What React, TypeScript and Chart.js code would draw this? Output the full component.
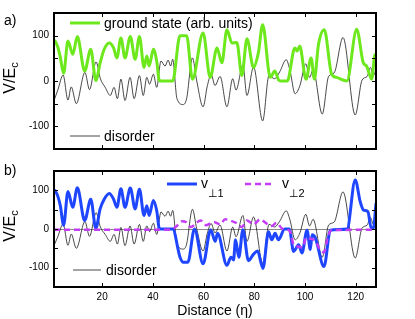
import React, { useEffect, useRef } from 'react';
import { Chart, registerables } from 'chart.js';

Chart.register(...registerables);

// ---------- data ----------
const xTickValues = [20, 40, 60, 80, 100, 120];
const yTickMarks = [-150, -100, -50, 0, 50, 100, 150];
const yTickLabels = [-100, 0, 100];

const groundX = [1.2, 2.5, 3.5, 4.8, 6.5, 8.4, 10.2, 13.1, 15.5, 17.5, 19.2, 20.8, 22.8, 24.5, 25.8, 27.4, 29, 31.1, 33, 34.7, 36.5, 37.6, 38.5, 40.2, 41.5, 42.6, 47.8, 50.7, 53.3, 55.6, 59.8, 62.6, 65.3, 67.2, 69.2, 71.2, 73.1, 75.1, 77.1, 79.7, 81.6, 83.3, 86.3, 88.1, 89.6, 90.5, 93, 96, 96.9, 97.9, 100.4, 102.4, 103.7, 105.3, 107.6, 110.5, 112.5, 116.5, 120.4, 123, 124.3, 126.3, 127.6, 128];
const groundY = [91, 75, 52, 17, 88, 59, 98, 22, 70, 1, 40, 70, 84, 73, 51, 95, 51, 98, 48, 98, 30, 55, 33, 70, 44, 0, 0, 100, 100, 4, 106, 8, 73, 40, 113, 84, 85, 12, 93, 30, 62, 124, 8, 22, 2, 0, 0, 73, 66, 77, 4, 51, 4, 80, 113, 15, 8, 0, 114, 40, 33, 4, 58, 45];

const disorderX = [1.2, 2.5, 4.6, 6.5, 7.8, 9.8, 13.2, 15, 17.6, 19.3, 21.2, 23.2, 24.7, 26, 27.4, 29, 31, 32.6, 34.7, 36.2, 37.6, 38.7, 40.2, 41.5, 43.2, 44.8, 46, 47, 47.8, 49.5, 52, 53.3, 55.6, 57.3, 59.8, 61.5, 63, 64.5, 66.5, 69.2, 71.5, 72.8, 75.5, 77.1, 79.7, 83.3, 85.8, 88, 90, 92.6, 94, 96.1, 98, 100.3, 101.8, 103.2, 106.8, 109.3, 111.5, 115, 119.8, 122.5, 124.5, 125.8, 127, 128];
const disorderY = [-40, -20, 13, -42, -13, -50, 19, -19, 42, 5, -14, -32, -14, -39, 4, -43, 8, -39, 12, -32, 8, -7, 15, -14, 44, 33, 46, 33, 48, -39, -52, -39, 51, 0, -57, -10, 14, -10, 10, -57, 5, -20, 35, -32, 31, -88, 12, 5, 20, 47, 25, -28, -10, 38, 8, 25, -73, 10, 18, 96, -75, 2, 10, 30, 12, 25];

const v1X = [1.2, 2.5, 3.5, 4.8, 6.5, 8.4, 10.2, 13.1, 15.5, 17.5, 19.2, 20.8, 22.8, 24.5, 25.8, 27.4, 29, 31.1, 33, 34.7, 36.5, 37.6, 38.5, 40.2, 41.5, 42.6, 47.8, 50.7, 52, 53.8, 56.4, 59.8, 62.8, 64.6, 65.5, 69.2, 70.8, 71.8, 72.6, 73.9, 75.5, 77.7, 79.7, 81.3, 83.4, 85.6, 86.9, 88.2, 89.5, 92, 93.8, 95.5, 97.5, 98.8, 100.8, 102.1, 102.8, 104, 107.5, 110, 116.6, 119.8, 121.8, 123.1, 124.8, 126.1, 127, 128];
const v1Y = [102, 85, 60, 10, 97, 56, 107, 22, 77, 2, 52, 77, 92, 77, 56, 104, 56, 106, 52, 103, 35, 60, 35, 74, 48, 0, 0, -73, -86, -86, 0, -90, -2, -32, -11, -94, -73, -80, -28, -73, -2, -82, -65, -57, -102, -7, -28, -11, -28, 0, 0, -58, -41, -62, -3, -53, -15, -22, -97, -3, 0, 127, 70, 49, 45, 3, 3, 67];

const v2X = [1, 47, 49, 51.5, 53, 55, 57, 58.8, 61, 64, 66.5, 68.5, 70.5, 73, 75.1, 77.1, 79.7, 82.3, 84.9, 86.9, 88.8, 90.8, 93, 94, 95.5, 97, 99, 100.5, 102, 104, 106, 107.5, 109, 110.5, 128];
const v2Y = [-2, -2, 5, 20, 18, 5, 15, 22, 10, 18, 12, 25, 22, 15, 5, 22, 12, 25, 14, 8, 16, 2, -2, -5, -40, -45, -48, -22, -25, -30, -55, -60, -20, -3, -2];

// ---------- styles ----------
const FONT = '"Liberation Sans", Arial, Helvetica, "DejaVu Sans", sans-serif';
const GREEN = '#6ce81c';
const BLUE = '#1e46ff';
const MAGENTA = '#c43cf5';
const BLACK = '#1a1a1a';

const pts = (xs: number[], ys: number[]) => xs.map((x, i) => ({ x, y: ys[i] }));

type TextFn = (ctx: CanvasRenderingContext2D, chart: any) => void;

function framePlugin(id: string, drawTexts: TextFn) {
  return {
    id,
    afterDraw(chart: any) {
      const { ctx, chartArea: ca, scales } = chart;
      const xs = scales.x;
      const ys = scales.y;
      ctx.save();
      ctx.strokeStyle = '#000';
      ctx.lineWidth = 1;
      const tl = 4;
      ctx.beginPath();
      for (const v of xTickValues) {
        const px = Math.round(xs.getPixelForValue(v)) + 0.5;
        ctx.moveTo(px, ca.bottom);
        ctx.lineTo(px, ca.bottom - tl);
        ctx.moveTo(px, ca.top);
        ctx.lineTo(px, ca.top + tl);
      }
      for (const v of yTickMarks) {
        const py = Math.round(ys.getPixelForValue(v)) + 0.5;
        ctx.moveTo(ca.left, py);
        ctx.lineTo(ca.left + tl, py);
        ctx.moveTo(ca.right, py);
        ctx.lineTo(ca.right - tl, py);
      }
      ctx.stroke();
      ctx.lineWidth = 2;
      ctx.strokeRect(ca.left, ca.top, ca.right - ca.left, ca.bottom - ca.top);
      ctx.fillStyle = '#000';
      drawTexts(ctx, chart);
      ctx.restore();
    },
  };
}

function legendLine(ctx: CanvasRenderingContext2D, x1: number, x2: number, y: number, color: string, width: number, dash: number[] = []) {
  ctx.save();
  ctx.strokeStyle = color;
  ctx.lineWidth = width;
  ctx.setLineDash(dash);
  ctx.beginPath();
  ctx.moveTo(x1, y);
  ctx.lineTo(x2, y);
  ctx.stroke();
  ctx.restore();
}

function text(ctx: CanvasRenderingContext2D, s: string, x: number, y: number, size: number, align: CanvasTextAlign = 'left') {
  ctx.font = `${size}px ${FONT}`;
  ctx.textAlign = align;
  ctx.textBaseline = 'alphabetic';
  ctx.fillStyle = '#000';
  ctx.fillText(s, x, y);
}

function yLabel(ctx: CanvasRenderingContext2D, cy: number) {
  ctx.save();
  ctx.translate(15, cy - 3);
  ctx.rotate(-Math.PI / 2);
  ctx.font = `16px ${FONT}`;
  const w1 = ctx.measureText('V/E').width;
  ctx.font = `11px ${FONT}`;
  const w2 = ctx.measureText('c').width;
  const start = -(w1 + w2) / 2;
  text(ctx, 'V/E', start, 0, 16);
  text(ctx, 'c', start + w1, 3, 11);
  ctx.restore();
}

function baseOptions(padTop: number, xHeight: number, showX: boolean, zeroLine: boolean, texts: TextFn) {
  return {
    responsive: false,
    animation: false,
    layout: { padding: { left: 0, right: 39, top: padTop, bottom: 0 } },
    plugins: { legend: { display: false }, tooltip: { enabled: false } },
    elements: { point: { radius: 0 } },
    scales: {
      x: {
        type: 'linear',
        min: 1,
        max: 128,
        afterBuildTicks: (s: any) => {
          s.ticks = xTickValues.map((v) => ({ value: v }));
        },
        afterFit: (s: any) => {
          s.height = xHeight;
        },
        grid: { display: false, drawTicks: false },
        border: { display: false },
        ticks: {
          display: showX,
          padding: 4,
          maxRotation: 0,
          autoSkip: false,
          color: '#000',
          font: { family: FONT, size: 10 },
        },
      },
      y: {
        type: 'linear',
        min: -150,
        max: 150,
        afterBuildTicks: (s: any) => {
          s.ticks = yTickMarks.map((v) => ({ value: v }));
        },
        afterFit: (s: any) => {
          s.width = 54;
        },
        grid: {
          display: zeroLine,
          drawTicks: false,
          lineWidth: 1,
          color: (c: any) => (c.tick && c.tick.value === 0 ? '#8a8a8a' : 'rgba(0,0,0,0)'),
        },
        border: { display: false },
        ticks: {
          padding: 5,
          color: '#000',
          font: { family: FONT, size: 10 },
          callback: (v: any) => (yTickLabels.includes(Number(v)) ? String(v) : ''),
        },
      },
    },
    _texts: texts,
  } as any;
}

const textsA: TextFn = (ctx, chart) => {
  const ca = chart.chartArea;
  text(ctx, 'a)', 4, 25, 14);
  legendLine(ctx, 70, 100, 23, GREEN, 3);
  text(ctx, 'ground state (arb. units)', 104, 28, 14);
  legendLine(ctx, 70, 100, 136, BLACK, 0.8);
  text(ctx, 'disorder', 104, 141, 14);
  yLabel(ctx, (ca.top + ca.bottom) / 2);
};

const textsB: TextFn = (ctx, chart) => {
  const ca = chart.chartArea;
  text(ctx, 'b)', 4, 15, 14);
  legendLine(ctx, 167, 197, 24, BLUE, 3);
  text(ctx, 'v', 201, 28, 14);
  text(ctx, '⊥1', 208, 37, 11);
  legendLine(ctx, 245, 273, 24, MAGENTA, 2.5, [6, 4]);
  text(ctx, 'v', 282, 28, 14);
  text(ctx, '⊥2', 289, 37, 11);
  legendLine(ctx, 73, 101, 110, BLACK, 0.8);
  text(ctx, 'disorder', 106, 115, 14);
  yLabel(ctx, (ca.top + ca.bottom) / 2);
  text(ctx, 'Distance (η)', (ca.left + ca.right) / 2, 155, 14, 'center');
};

export default function App() {
  const refA = useRef<HTMLCanvasElement | null>(null);
  const refB = useRef<HTMLCanvasElement | null>(null);

  useEffect(() => {
    const lineDs = (label: string, xs: number[], ys: number[], color: string, width: number, dash: number[] = []) => ({
      label,
      data: pts(xs, ys),
      borderColor: color,
      backgroundColor: color,
      borderWidth: width,
      borderDash: dash,
      pointRadius: 0,
      fill: false,
      cubicInterpolationMode: 'monotone',
      borderCapStyle: 'butt',
      borderJoinStyle: 'round',
    });

    const chartA = new Chart(refA.current as HTMLCanvasElement, {
      type: 'line',
      data: {
        datasets: [
          lineDs('ground state (arb. units)', groundX, groundY, GREEN, 3),
          lineDs('disorder', disorderX, disorderY, BLACK, 0.8),
        ],
      },
      options: baseOptions(13, 10, false, false, textsA),
      plugins: [framePlugin('frameA', textsA)],
    } as any);

    const chartB = new Chart(refB.current as HTMLCanvasElement, {
      type: 'line',
      data: {
        datasets: [
          lineDs('v⊥2', v2X, v2Y, MAGENTA, 2.5, [6, 4]),
          lineDs('v⊥1', v1X, v1Y, BLUE, 3),
          lineDs('disorder', disorderX, disorderY, BLACK, 0.8),
        ],
      },
      options: baseOptions(6, 32, true, true, textsB),
      plugins: [framePlugin('frameB', textsB)],
    } as any);

    return () => {
      chartA.destroy();
      chartB.destroy();
    };
  }, []);

  return (
    <div style={{ position: 'absolute', left: 0, top: 0, width: 415, height: 319, background: '#fff' }}>
      <canvas ref={refA} width={415} height={160} style={{ position: 'absolute', left: 0, top: 0 }} />
      <canvas ref={refB} width={415} height={159} style={{ position: 'absolute', left: 0, top: 160 }} />
    </div>
  );
}
